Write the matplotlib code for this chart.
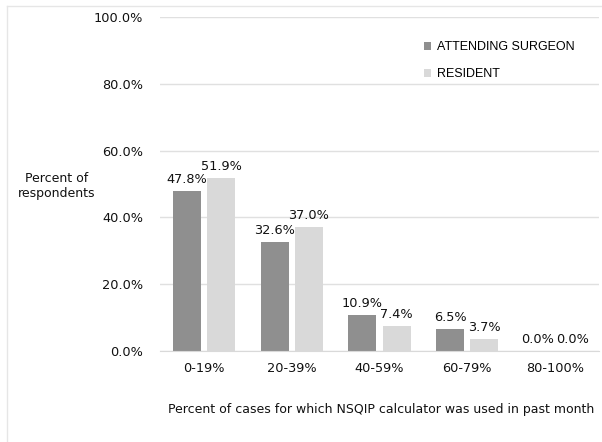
import numpy as np
import matplotlib.pyplot as plt
from matplotlib.lines import Line2D
from matplotlib.ticker import FuncFormatter

categories = ['0-19%', '20-39%', '40-59%', '60-79%', '80-100%']
attending = [47.8, 32.6, 10.9, 6.5, 0.0]
resident = [51.9, 37.0, 7.4, 3.7, 0.0]

dark = '#8f8f8f'
light = '#d9d9d9'

fig = plt.figure(figsize=(6.02, 4.42), dpi=100)
ax = fig.add_axes([160 / 602, 91 / 442, 439 / 602, 334 / 442])

x = np.arange(len(categories))
w = 0.32
off = 0.195
b1 = ax.bar(x - off, attending, w, color=dark, label='ATTENDING SURGEON', zorder=2)
b2 = ax.bar(x + off, resident, w, color=light, label='RESIDENT', zorder=2)

for bars, vals in ((b1, attending), (b2, resident)):
    for r, v in zip(bars, vals):
        ax.text(r.get_x() + r.get_width() / 2, v + 1.5, f'{v:.1f}%',
                ha='center', va='bottom', fontsize=9.3, color='#111111')

ax.set_xlim(-0.5, len(categories) - 0.5)
ax.set_ylim(0, 100)
ax.set_yticks(np.arange(0, 101, 20))
ax.yaxis.set_major_formatter(FuncFormatter(lambda v, p: f'{v:.1f}%'))
ax.set_xticks(x)
ax.set_xticklabels(categories)
ax.tick_params(axis='both', length=0, labelsize=9.3, colors='#111111')
ax.tick_params(axis='y', pad=12)
ax.tick_params(axis='x', pad=8)
ax.yaxis.grid(True, color='#e0e0e0', linewidth=1)
ax.set_axisbelow(True)
for s in ['top', 'right', 'left']:
    ax.spines[s].set_visible(False)
ax.spines['bottom'].set_color('#d9d9d9')

fig.text(57 / 602, 1 - 186 / 442, 'Percent of\nrespondents', ha='center', va='center',
         fontsize=9, color='#111111', linespacing=1.1)
fig.text(381 / 602, 1 - 409 / 442,
         'Percent of cases for which NSQIP calculator was used in past month',
         ha='center', va='center', fontsize=9, color='#111111')

leg = ax.legend(loc='upper left', bbox_to_anchor=(0.575, 0.962), frameon=False,
                handlelength=0.6, handleheight=0.6, handletextpad=0.5,
                labelspacing=1.2, prop={'family': 'Liberation Sans', 'size': 9})

# thin border at top and left of the figure
fig.add_artist(Line2D([7 / 602, 1], [1 - 6 / 442, 1 - 6 / 442], color='#e6e6e6', lw=1,
                      transform=fig.transFigure))
fig.add_artist(Line2D([7 / 602, 7 / 602], [0, 1 - 6 / 442], color='#e6e6e6', lw=1,
                      transform=fig.transFigure))

fig.savefig('out.png', dpi=100)
